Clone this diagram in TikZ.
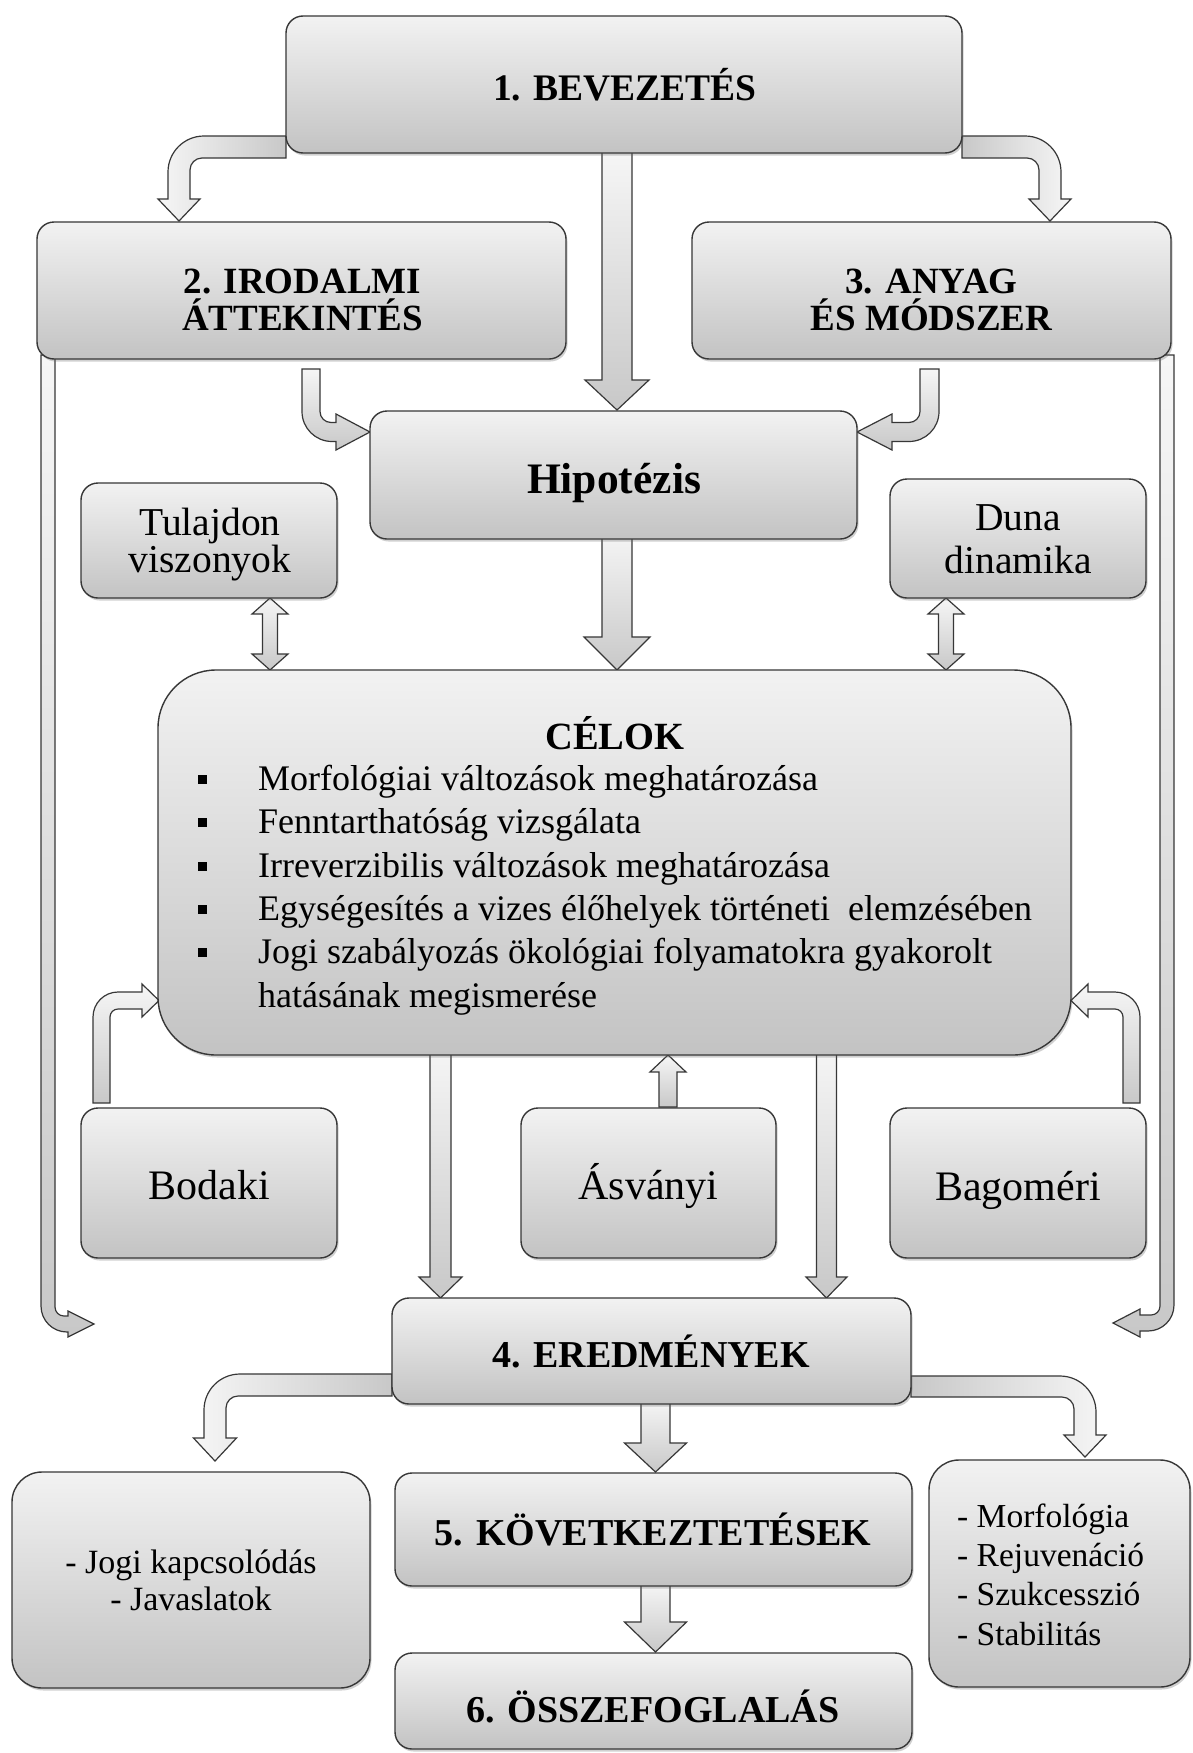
\documentclass[tikz,border=0pt]{standalone}
\usepackage{fontspec}
\setmainfont{Liberation Serif}
\usetikzlibrary{shadows}
\definecolor{bordc}{RGB}{55,55,55}
\definecolor{boxtop}{RGB}{242,242,242}
\definecolor{boxbot}{RGB}{195,195,195}
\definecolor{arrtop}{RGB}{246,246,246}
\definecolor{arrbot}{RGB}{200,200,200}
\newcommand{\fhb}[1]{\fontsize{#1pt}{#1pt}\selectfont\bfseries}
\newcommand{\frg}[1]{\fontsize{#1pt}{#1pt}\selectfont}
\tikzset{
  box/.style={draw=bordc, line width=1.4pt, rounded corners=17pt, top color=boxtop, bottom color=boxbot, inner sep=0pt,
    drop shadow={shadow xshift=1.5pt, shadow yshift=-2.5pt, opacity=0.3, fill=black!60}},
  arr/.style={draw=bordc, line width=1.2pt, line join=miter},
  arrv/.style={arr, top color=arrtop, bottom color=arrbot},
  arrl/.style={arr, left color=arrbot, right color=arrtop},
  arrr/.style={arr, left color=arrtop, right color=arrbot},
  txt/.style={inner sep=0pt, anchor=base, text=black},
  ltxt/.style={inner sep=0pt, anchor=base west, text=black},
  bul/.style={fill=black, inner sep=0pt, minimum size=9pt}
}
\begin{document}
\begin{tikzpicture}[x=1pt,y=-1pt]
\useasboundingbox (0,0) rectangle (1193,1753);
\fill[white] (0,0) rectangle (1193,1753);

% ---------- block arrows ----------
% 1 -> 2
\path[arrr] (286,136) -- (204,136) .. controls (184.1,136) and (168,152.1) .. (168,172) -- (168,199) -- (158,199) -- (179,221) -- (200,199) -- (190,199) -- (190,170) .. controls (190,163.4) and (195.4,158) .. (202,158) -- (286,158) -- cycle;
% 1 -> 3
\path[arrl] (962,136) -- (1025,136) .. controls (1044.9,136) and (1061,152.1) .. (1061,172) -- (1061,199) -- (1071,199) -- (1050,221) -- (1029,199) -- (1039,199) -- (1039,170) .. controls (1039,163.4) and (1033.6,158) .. (1027,158) -- (962,158) -- cycle;
% 1 -> Hipotezis
\path[arrv] (602,150) -- (602,380) -- (585,380) -- (617,410) -- (649,380) -- (632,380) -- (632,150) -- cycle;
% 2 -> Hipotezis
\path[arrv] (302,369) -- (302,411.5) .. controls (302,428.1) and (315.4,441.5) .. (332,441.5) -- (336,441.5) -- (336,450) -- (370,432) -- (336,414) -- (336,422.5) -- (331,422.5) .. controls (324.9,422.5) and (320,417.6) .. (320,411.5) -- (320,369) -- cycle;
% 3 -> Hipotezis
\path[arrv] (939,369) -- (939,411.5) .. controls (939,428.1) and (925.6,441.5) .. (909,441.5) -- (892,441.5) -- (892,450) -- (857,432) -- (892,414) -- (892,422.5) -- (909,422.5) .. controls (915.1,422.5) and (920,417.6) .. (920,411.5) -- (920,369) -- cycle;
% Hipotezis -> Celok
\path[arrv] (602,530) -- (602,637) -- (584,637) -- (617,670) -- (650,637) -- (632,637) -- (632,530) -- cycle;
% Tulajdon <-> Celok
\path[arrv] (270,598) -- (288,614) -- (277.5,614) -- (277.5,654) -- (288,654) -- (270,670) -- (252,654) -- (262.5,654) -- (262.5,614) -- (252,614) -- cycle;
% Duna <-> Celok
\path[arrv] (946,598) -- (964,614) -- (953.5,614) -- (953.5,654) -- (964,654) -- (946,670) -- (928,654) -- (938.5,654) -- (938.5,614) -- (928,614) -- cycle;
% Bodaki -> Celok
\path[arrv] (93,1103) -- (93,1017) .. controls (93,1003.2) and (104.2,992) .. (118,992) -- (142,992) -- (142,984) -- (159,1000.5) -- (142,1017) -- (142,1009) -- (118,1009) .. controls (113.6,1009) and (110,1012.6) .. (110,1017) -- (110,1103) -- cycle;
% Bagomeri -> Celok
\path[arrv] (1140,1103) -- (1140,1017) .. controls (1140,1003.2) and (1128.8,992) .. (1115,992) -- (1088,992) -- (1088,984) -- (1071,1000.5) -- (1088,1017) -- (1088,1009) -- (1115,1009) .. controls (1119.4,1009) and (1123,1012.6) .. (1123,1017) -- (1123,1103) -- cycle;
% Asvanyi -> Celok
\path[arrv] (659,1107) -- (659,1072) -- (650,1072) -- (668,1055) -- (686,1072) -- (677,1072) -- (677,1107) -- cycle;
% Celok -> Eredmenyek
\path[arrv] (430,1045) -- (430,1277) -- (419,1277) -- (440.5,1298) -- (462,1277) -- (451,1277) -- (451,1045) -- cycle;
\path[arrv] (816.5,1045) -- (816.5,1277) -- (806,1277) -- (826.5,1298) -- (847,1277) -- (836.5,1277) -- (836.5,1045) -- cycle;
% 2 -> Eredmenyek (long left)
\path[arrv] (41,355) -- (41,1306) .. controls (41,1320.4) and (52.6,1332) .. (67,1332) -- (68,1332) -- (68,1337) -- (94,1324) -- (68,1311) -- (68,1316) -- (64,1316) .. controls (59,1316) and (55,1312) .. (55,1307) -- (55,355) -- cycle;
% 3 -> Eredmenyek (long right)
\path[arrv] (1174,355) -- (1174,1305) .. controls (1174,1319.4) and (1162.4,1331) .. (1148,1331) -- (1140,1331) -- (1140,1337) -- (1113,1323) -- (1140,1309) -- (1140,1315) -- (1151,1315) .. controls (1156,1315) and (1160,1311) .. (1160,1306) -- (1160,355) -- cycle;
% Eredmenyek -> left box
\path[arrr] (392,1374) -- (240,1374) .. controls (220.1,1374) and (204,1390.1) .. (204,1410) -- (204,1438) -- (193.5,1438) -- (215,1461) -- (236.5,1438) -- (226,1438) -- (226,1408) .. controls (226,1401.4) and (231.4,1396) .. (238,1396) -- (392,1396) -- cycle;
% Eredmenyek -> right box
\path[arrl] (911,1376) -- (1060,1376) .. controls (1079.9,1376) and (1096,1392.1) .. (1096,1412) -- (1096,1435) -- (1106,1435) -- (1085,1457) -- (1064,1435) -- (1074,1435) -- (1074,1409) .. controls (1074,1402.4) and (1068.6,1397) .. (1062,1397) -- (911,1397) -- cycle;
% Eredmenyek -> 5
\path[arrv] (641,1400) -- (641,1443) -- (624.5,1443) -- (655.5,1472) -- (686.5,1443) -- (670,1443) -- (670,1400) -- cycle;
% 5 -> 6
\path[arrv] (641,1583) -- (641,1622) -- (624.5,1622) -- (655.5,1652) -- (686.5,1622) -- (670,1622) -- (670,1583) -- cycle;

% ---------- boxes ----------
\node[box, minimum width=676pt, minimum height=137pt] (b1) at (624,84.5) {};
\node[box, minimum width=529pt, minimum height=137pt] (b2) at (301.5,290.5) {};
\node[box, minimum width=479pt, minimum height=137pt] (b3) at (931.5,290.5) {};
\node[box, minimum width=487pt, minimum height=128pt] (hip) at (613.5,475) {};
\node[box, minimum width=256pt, minimum height=115pt] (tul) at (209,540.5) {};
\node[box, minimum width=256pt, minimum height=119pt] (duna) at (1018,538.5) {};
\node[box, rounded corners=58pt, minimum width=913pt, minimum height=385pt] (cel) at (614.5,862.5) {};
\node[box, minimum width=256pt, minimum height=150pt] (bod) at (209,1183) {};
\node[box, minimum width=255pt, minimum height=150pt] (asv) at (648.5,1183) {};
\node[box, minimum width=256pt, minimum height=150pt] (bag) at (1018,1183) {};
\node[box, minimum width=519pt, minimum height=106pt] (ered) at (651.5,1351) {};
\node[box, rounded corners=30pt, minimum width=358pt, minimum height=216pt] (jog) at (191,1580) {};
\node[box, minimum width=517pt, minimum height=113pt] (kov) at (653.5,1529.5) {};
\node[box, minimum width=517pt, minimum height=96pt] (ossz) at (653.5,1701) {};
\node[box, rounded corners=30pt, minimum width=261pt, minimum height=227pt] (morf) at (1059.5,1573.5) {};

% ---------- texts ----------
\node[txt, font=\fhb{37.5}] (t1) at (625,100) {1. BEVEZETÉS};
\node[txt, font=\fhb{37}] (t2a) at (302.5,293) {2. IRODALMI};
\node[txt, font=\fhb{37}] (t2b) at (302.5,330) {ÁTTEKINTÉS};
\node[txt, font=\fhb{37}] (t3a) at (931.5,293) {3. ANYAG};
\node[txt, font=\fhb{37}] (t3b) at (931.5,330) {ÉS MÓDSZER};
\node[txt, font=\fhb{43.5}] (thip) at (614,493) {Hipotézis};
\node[txt, font=\frg{39.5}] (ttul1) at (210,535) {Tulajdon};
\node[txt, font=\frg{39.5}] (ttul2) at (210,572) {viszonyok};
\node[txt, font=\frg{39.5}] (tdun1) at (1018,530) {Duna};
\node[txt, font=\frg{39.5}] (tdun2) at (1018,573) {dinamika};
\node[txt, font=\fhb{38.5}] (tcel) at (615,749) {CÉLOK};
\node[ltxt, font=\frg{36}] (c1) at (258,790) {Morfológiai változások meghatározása};
\node[ltxt, font=\frg{36}] (c2) at (258,833) {Fenntarthatóság vizsgálata};
\node[ltxt, font=\frg{36}] (c3) at (258,877) {Irreverzibilis változások meghatározása};
\node[ltxt, font=\frg{36}] (c4) at (258,920) {Egységesítés a vizes élőhelyek történeti\ \ elemzésében};
\node[ltxt, font=\frg{36}] (c5) at (258,963) {Jogi szabályozás ökológiai folyamatokra gyakorolt};
\node[ltxt, font=\frg{36}] (c6) at (258,1007) {hatásának megismerése};
\node[bul] (p1) at (202,779) {};
\node[bul] (p2) at (202,822) {};
\node[bul] (p3) at (202,866) {};
\node[bul] (p4) at (202,909) {};
\node[bul] (p5) at (202,952) {};
\node[txt, font=\frg{42}] (tbod) at (209,1199) {Bodaki};
\node[txt, font=\frg{42}] (tasv) at (648.5,1199) {Ásványi};
\node[txt, font=\frg{42}] (tbag) at (1018,1200) {Bagoméri};
\node[txt, font=\fhb{38}] (tered) at (651,1367) {4. EREDMÉNYEK};
\node[txt, font=\fhb{38}] (tkov) at (653,1545) {5. KÖVETKEZTETÉSEK};
\node[txt, font=\fhb{38}] (toss) at (653,1722) {6. ÖSSZEFOGLALÁS};
\node[txt, font=\frg{34}] (tjog1) at (191,1573) {- Jogi kapcsolódás};
\node[txt, font=\frg{34}] (tjog2) at (191,1610) {- Javaslatok};
\node[ltxt, font=\frg{33.5}] (m1) at (957,1527) {- Morfológia};
\node[ltxt, font=\frg{33.5}] (m2) at (957,1566) {- Rejuvenáció};
\node[ltxt, font=\frg{33.5}] (m3) at (957,1605) {- Szukcesszió};
\node[ltxt, font=\frg{33.5}] (m4) at (957,1645) {- Stabilitás};
\end{tikzpicture}
\end{document}
